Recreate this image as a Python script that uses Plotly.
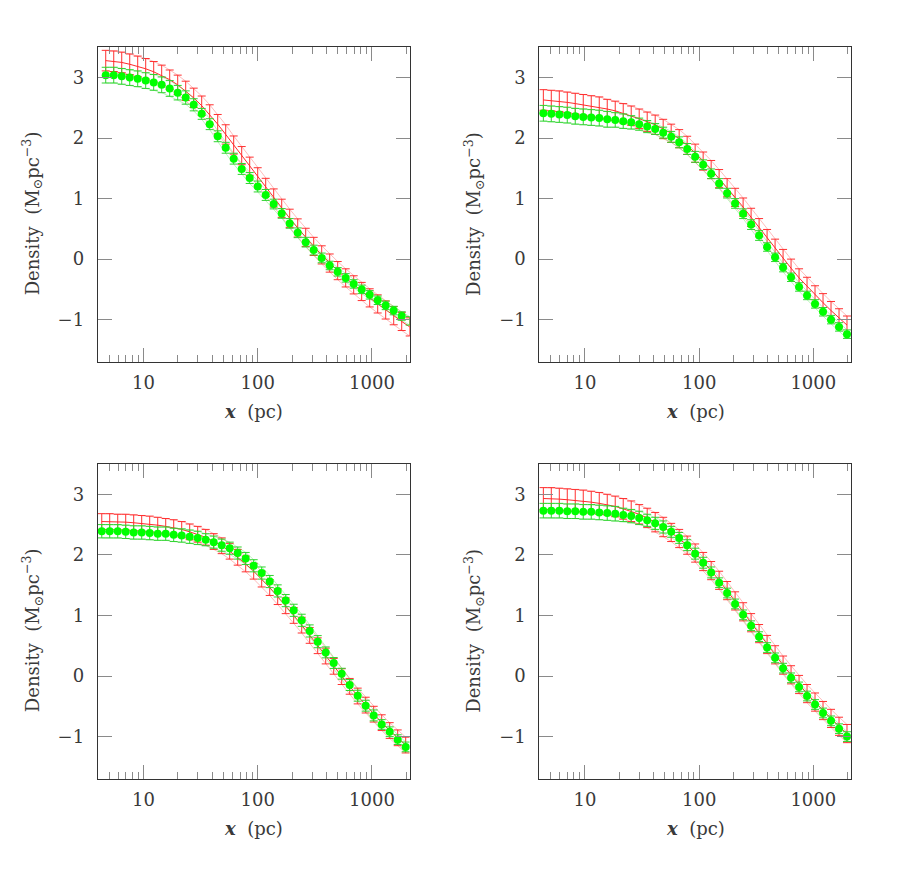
import plotly.graph_objects as go

# ---------------- data ----------------
x_tl = [4.68, 5.50, 6.46, 7.59, 8.91, 10.47, 12.30, 14.45, 16.98, 19.95, 23.44, 27.54, 32.36,
        38.02, 44.67, 52.48, 61.66, 72.44, 85.11, 100.0, 117.5, 138.0, 162.2, 190.5, 223.9,
        263.0, 309.0, 363.1, 426.6, 501.2, 588.8, 691.8, 812.8, 955.0, 1122, 1318, 1549, 1820, 2138]
x_rest = [4.32, 5.07, 5.96, 7.00, 8.22, 9.66, 11.35, 13.34, 15.67, 18.41, 21.63, 25.41, 29.85,
          35.08, 41.21, 48.42, 56.89, 66.83, 78.52, 92.26, 108.4, 127.4, 149.6, 175.8, 206.5,
          242.7, 285.1, 335.0, 393.6, 462.4, 543.3, 638.3, 749.9, 881.0, 1035, 1216, 1429, 1679, 1972]

green_tl = [3.04, 3.04, 3.02, 3.00, 2.98, 2.95, 2.92, 2.88, 2.82, 2.75, 2.67, 2.55, 2.40, 2.23, 2.03,
            1.84, 1.66, 1.49, 1.34, 1.20, 1.06, 0.91, 0.755, 0.59, 0.435, 0.28, 0.15, 0.02, -0.105,
            -0.21, -0.31, -0.41, -0.50, -0.59, -0.68, -0.765, -0.85, -0.94, -1.02]
gerr_tl = [0.13, 0.13, 0.13, 0.13, 0.13, 0.13, 0.13, 0.13, 0.13, 0.12, 0.11, 0.10, 0.09, 0.09, 0.09,
           0.09, 0.09, 0.09, 0.09, 0.09, 0.09, 0.08, 0.08, 0.08, 0.08, 0.08, 0.08, 0.08, 0.07,
           0.07, 0.07, 0.07, 0.07, 0.07, 0.07, 0.07, 0.07, 0.07, 0.07]
red_tl = [3.28, 3.27, 3.25, 3.22, 3.185, 3.145, 3.095, 3.035, 2.965, 2.88, 2.78, 2.665, 2.535, 2.39,
          2.23, 2.06, 1.885, 1.71, 1.535, 1.36, 1.185, 1.01, 0.84, 0.675, 0.515, 0.36, 0.21, 0.07,
          -0.065, -0.19, -0.31, -0.425, -0.535, -0.64, -0.74, -0.84, -0.935, -1.03, -1.12]
rerr_tl = [0.17, 0.17, 0.17, 0.17, 0.17, 0.17, 0.17, 0.17, 0.16, 0.16, 0.16, 0.16, 0.16, 0.16, 0.16,
           0.16, 0.15, 0.15, 0.15, 0.15, 0.15, 0.15, 0.15, 0.15, 0.15, 0.15, 0.15, 0.15, 0.15,
           0.15, 0.15, 0.15, 0.15, 0.15, 0.15, 0.15, 0.15, 0.15, 0.15]

green_tr = [2.41, 2.40, 2.39, 2.38, 2.36, 2.35, 2.34, 2.33, 2.31, 2.30, 2.28, 2.26, 2.23, 2.19, 2.15,
            2.09, 2.02, 1.93, 1.82, 1.69, 1.56, 1.41, 1.25, 1.09, 0.92, 0.75, 0.57, 0.39, 0.20,
            0.03, -0.14, -0.30, -0.46, -0.60, -0.74, -0.87, -1.00, -1.12, -1.24]
gerr_tr = [0.13, 0.13, 0.13, 0.13, 0.13, 0.13, 0.13, 0.13, 0.13, 0.12, 0.12, 0.11, 0.10, 0.10, 0.09,
           0.09, 0.09, 0.09, 0.09, 0.09, 0.08, 0.08, 0.08, 0.08, 0.08, 0.08, 0.08, 0.08, 0.07,
           0.07, 0.07, 0.07, 0.07, 0.07, 0.07, 0.07, 0.07, 0.07, 0.07]
red_tr = [2.63, 2.62, 2.61, 2.59, 2.57, 2.55, 2.53, 2.51, 2.48, 2.45, 2.41, 2.37, 2.32, 2.27, 2.22,
          2.15, 2.08, 1.99, 1.88, 1.75, 1.62, 1.48, 1.33, 1.18, 1.02, 0.86, 0.69, 0.52, 0.34,
          0.18, 0.01, -0.15, -0.31, -0.45, -0.59, -0.72, -0.85, -0.97, -1.09]
rerr_tr = [0.17, 0.17, 0.17, 0.17, 0.17, 0.17, 0.17, 0.17, 0.16, 0.16, 0.16, 0.16, 0.16, 0.16, 0.16,
           0.16, 0.15, 0.15, 0.15, 0.15, 0.15, 0.15, 0.15, 0.15, 0.15, 0.15, 0.15, 0.15, 0.15,
           0.15, 0.15, 0.15, 0.15, 0.15, 0.15, 0.15, 0.15, 0.15, 0.15]

green_bl = [2.39, 2.39, 2.39, 2.38, 2.37, 2.37, 2.36, 2.35, 2.35, 2.33, 2.32, 2.30, 2.28, 2.25, 2.21,
            2.16, 2.11, 2.03, 1.94, 1.82, 1.70, 1.56, 1.405, 1.245, 1.085, 0.92, 0.744, 0.567, 0.39,
            0.215, 0.038, -0.149, -0.325, -0.49, -0.65, -0.80, -0.92, -1.05, -1.17]
gerr_bl = [0.11, 0.11, 0.11, 0.11, 0.11, 0.11, 0.11, 0.11, 0.11, 0.11, 0.11, 0.11, 0.11, 0.10, 0.10,
           0.10, 0.10, 0.10, 0.10, 0.10, 0.10, 0.10, 0.10, 0.10, 0.10, 0.10, 0.10, 0.10, 0.09,
           0.09, 0.09, 0.09, 0.09, 0.09, 0.09, 0.08, 0.08, 0.08, 0.08]
red_bl = [2.55, 2.55, 2.54, 2.54, 2.53, 2.52, 2.51, 2.49, 2.47, 2.45, 2.42, 2.38, 2.34, 2.29, 2.22,
          2.15, 2.06, 1.96, 1.85, 1.73, 1.60, 1.46, 1.31, 1.16, 1.00, 0.84, 0.67, 0.50, 0.33,
          0.16, -0.01, -0.17, -0.33, -0.48, -0.63, -0.77, -0.90, -1.02, -1.14]
rerr_bl = [0.13, 0.13, 0.13, 0.13, 0.13, 0.13, 0.13, 0.13, 0.13, 0.13, 0.13, 0.13, 0.13, 0.13, 0.13,
           0.13, 0.13, 0.13, 0.13, 0.13, 0.13, 0.13, 0.13, 0.13, 0.13, 0.13, 0.13, 0.13, 0.13,
           0.13, 0.13, 0.13, 0.13, 0.13, 0.13, 0.13, 0.13, 0.13, 0.13]

green_br = [2.73, 2.73, 2.73, 2.72, 2.72, 2.71, 2.71, 2.70, 2.69, 2.68, 2.66, 2.64, 2.61, 2.57, 2.52,
            2.46, 2.38, 2.28, 2.16, 2.02, 1.87, 1.71, 1.54, 1.37, 1.19, 1.01, 0.83, 0.65, 0.47,
            0.30, 0.13, -0.03, -0.18, -0.33, -0.47, -0.61, -0.74, -0.87, -1.00]
gerr_br = [0.12, 0.12, 0.12, 0.12, 0.12, 0.12, 0.12, 0.12, 0.12, 0.12, 0.11, 0.11, 0.11, 0.10, 0.10,
           0.10, 0.09, 0.09, 0.09, 0.09, 0.09, 0.09, 0.08, 0.08, 0.08, 0.08, 0.08, 0.08, 0.08,
           0.08, 0.08, 0.08, 0.08, 0.08, 0.08, 0.08, 0.08, 0.08, 0.08]
red_br = [2.93, 2.93, 2.92, 2.91, 2.90, 2.89, 2.87, 2.85, 2.83, 2.80, 2.76, 2.72, 2.67, 2.61, 2.54,
          2.46, 2.37, 2.27, 2.16, 2.03, 1.89, 1.74, 1.58, 1.41, 1.24, 1.06, 0.88, 0.70, 0.52,
          0.35, 0.18, 0.02, -0.14, -0.29, -0.43, -0.57, -0.70, -0.83, -0.95]
rerr_br = [0.18, 0.18, 0.18, 0.18, 0.18, 0.18, 0.18, 0.18, 0.17, 0.17, 0.17, 0.17, 0.16, 0.16, 0.16,
           0.16, 0.15, 0.15, 0.15, 0.15, 0.15, 0.15, 0.15, 0.15, 0.15, 0.15, 0.15, 0.15, 0.15,
           0.15, 0.15, 0.15, 0.15, 0.15, 0.15, 0.15, 0.15, 0.15, 0.15]

x_ticks = [10, 100, 1000]
x_tick_text = ["10", "100", "1000"]
x_minor = [4, 5, 6, 7, 8, 9, 20, 30, 40, 50, 60, 70, 80, 90,
           200, 300, 400, 500, 600, 700, 800, 900, 2000]
y_ticks = [-1, 0, 1, 2, 3]
y_tick_text = ["\u22121", "0", "1", "2", "3"]

panels = [
    (x_tl, green_tl, gerr_tl, red_tl, rerr_tl),
    (x_rest, green_tr, gerr_tr, red_tr, rerr_tr),
    (x_rest, green_bl, gerr_bl, red_bl, rerr_bl),
    (x_rest, green_br, gerr_br, red_br, rerr_br),
]

# ---------------- layout geometry ----------------
W, H = 899, 872
xdom = [[97.7 / W, 409.7 / W], [539.3 / W, 851 / W]]
ydom = [[1 - 362 / H, 1 - 47.3 / H], [1 - 779 / H, 1 - 464 / H]]

FONT = "DejaVu Serif"
FS = 18
TXT = "#3a3a3a"
TICKC = "#8a8a8a"
FRAME = "#333333"

fig = go.Figure()

for k, (xs, g, ge, r, re) in enumerate(panels):
    n = "" if k == 0 else str(k + 1)
    xa, ya = "x" + n, "y" + n
    r_up = [a + b for a, b in zip(r, re)]
    r_lo = [a - b for a, b in zip(r, re)]
    g_up = [a + b for a, b in zip(g, ge)]
    g_lo = [a - b for a, b in zip(g, ge)]
    for env in (r_up, r_lo):
        fig.add_trace(go.Scatter(x=xs, y=env, mode="lines", xaxis=xa, yaxis=ya,
                                 line=dict(color="rgba(255,60,60,0.35)", width=1),
                                 hoverinfo="skip", showlegend=False))
    fig.add_trace(go.Scatter(x=xs, y=r, mode="lines", xaxis=xa, yaxis=ya,
                             line=dict(color="#ff2a2a", width=1),
                             error_y=dict(type="data", array=re, color="#ff3030",
                                          thickness=1, width=4),
                             showlegend=False))
    for env in (g_up, g_lo):
        fig.add_trace(go.Scatter(x=xs, y=env, mode="lines", xaxis=xa, yaxis=ya,
                                 line=dict(color="rgba(60,230,60,0.35)", width=1),
                                 hoverinfo="skip", showlegend=False))
    fig.add_trace(go.Scatter(x=xs, y=g, mode="markers", xaxis=xa, yaxis=ya,
                             marker=dict(color="#00ff00", size=8, line=dict(width=0)),
                             error_y=dict(type="data", array=ge, color="#2fd32f",
                                          thickness=1, width=4),
                             cliponaxis=False, showlegend=False))

    col, row = k % 2, k // 2
    fig.layout["xaxis" + n] = dict(
        domain=xdom[col], anchor=ya, type="log", range=[0.6, 3.33],
        tickvals=x_ticks, ticktext=x_tick_text, ticks="inside", ticklen=14,
        tickwidth=1, tickcolor=TICKC, mirror="allticks", showline=True,
        linecolor=FRAME, linewidth=1, showgrid=False, zeroline=False,
        ticklabelstandoff=4,
        minor=dict(tickvals=x_minor, ticks="inside", ticklen=7, tickwidth=1,
                   tickcolor=TICKC, showgrid=False),
        tickfont=dict(family=FONT, size=FS, color=TXT))
    fig.layout["yaxis" + n] = dict(
        domain=ydom[row], anchor=xa, range=[-1.7, 3.5],
        tickvals=y_ticks, ticktext=y_tick_text, ticks="inside", ticklen=14,
        tickwidth=1, tickcolor=TICKC, mirror="allticks", showline=True,
        linecolor=FRAME, linewidth=1, showgrid=False, zeroline=False,
        ticklabelstandoff=9,
        tickfont=dict(family=FONT, size=FS, color=TXT))

    # axis titles
    cx = (xdom[col][0] + xdom[col][1]) / 2
    cy = (ydom[row][0] + ydom[row][1]) / 2
    fig.add_annotation(x=cx, y=ydom[row][0] - 49 / H, xref="paper", yref="paper",
                       text="<b><i>x</i></b>\u00a0\u00a0(pc)", showarrow=False,
                       font=dict(family=FONT, size=FS, color=TXT),
                       xanchor="center", yanchor="middle")
    fig.add_annotation(x=xdom[col][0] - 66 / W, y=cy - 9 / H, xref="paper", yref="paper",
                       text="Density\u00a0\u00a0(M<sub>\u2299</sub>pc<sup>\u22123</sup>)",
                       textangle=-90, showarrow=False,
                       font=dict(family=FONT, size=FS, color=TXT),
                       xanchor="center", yanchor="middle")

fig.update_layout(width=W, height=H, margin=dict(l=0, r=0, t=0, b=0),
                  paper_bgcolor="white", plot_bgcolor="white", showlegend=False)

fig.write_html("out.html", config={"displayModeBar": False},
               post_script="document.body.style.margin='0';")
